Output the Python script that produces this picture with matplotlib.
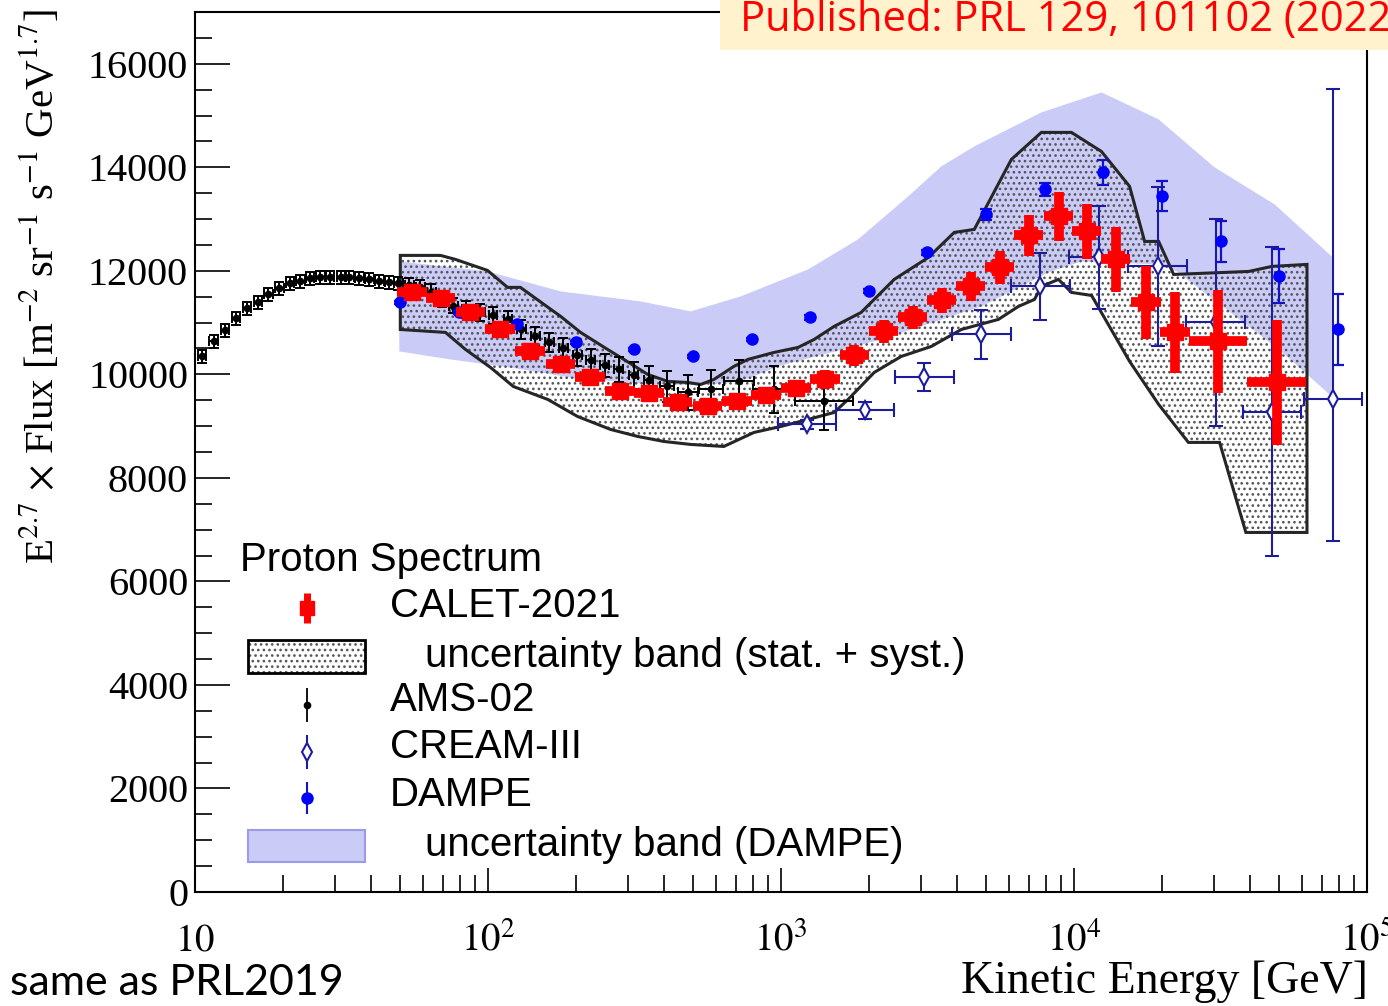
import numpy as np
import matplotlib.pyplot as plt
from matplotlib.patches import Rectangle
from matplotlib.ticker import FixedLocator, MultipleLocator, LogLocator, NullFormatter

plt.rcParams['mathtext.fontset'] = 'stix'
plt.rcParams['hatch.linewidth'] = 1.1

SERIF = ['Liberation Serif', 'DejaVu Serif']
SANS = ['Liberation Sans', 'DejaVu Sans']
NOTE = ['Lato', 'DejaVu Sans']
NOTE2 = ['Open Sans', 'DejaVu Sans']

# ---- CALET-2021 (E^2.7 x flux) ----
calet_e = [55, 69, 87, 110, 139, 177, 223, 282, 354, 444, 562, 708, 889, 1124,
           1413, 1781, 2242, 2818, 3535, 4441, 5578, 7000, 8870, 11040, 13890,
           17620, 22100, 31000, 49200]
calet_f = [11582, 11466, 11196, 10867, 10442, 10191, 9940, 9670, 9631, 9457,
           9380, 9477, 9592, 9728, 9901, 10365, 10829, 11100, 11428, 11698,
           12065, 12683, 13050, 12760, 12220, 11389, 10810, 10636, 9844]
calet_ferr = [150, 150, 150, 150, 150, 150, 150, 150, 150, 150, 150, 150, 160,
              170, 175, 195, 215, 220, 240, 280, 320, 390, 480, 540, 620, 700,
              780, 1000, 1200]
calet_dlog = [0.05] * 27 + [0.1, 0.1]

# CALET uncertainty band (stat. + syst.)
cband_up_e = [50.2, 68.8, 77.4, 99.6, 116.6, 129, 164, 177, 207, 256, 291, 351,
              411, 481, 532, 590, 690, 771, 946, 1143, 1297, 1518, 1877, 2434,
              3184, 3902, 4567, 6113, 7738, 9800, 12400, 15480, 17420, 19450,
              21890, 39500, 47300, 62400]
cband_up_f = [12298, 12298, 12221, 12008, 11680, 11680, 11254, 11120, 10810,
              10481, 10288, 9998, 9863, 9843, 9805, 9901, 10153, 10288, 10423,
              10520, 10674, 10926, 11196, 11834, 12259, 12742, 12800, 14152,
              14674, 14674, 14307, 13631, 12568, 12568, 11930, 11988, 12085,
              12124]
cband_lo_e = [50.2, 71.6, 83.8, 102, 122, 160, 202, 262, 324, 398, 492, 638,
              809, 1000, 1237, 1518, 1694, 2080, 2572, 3258, 4125, 5520, 6460,
              7330, 7740, 8850, 9800, 11480, 15480, 19450, 24570, 31400, 38600,
              62400]
cband_lo_f = [10867, 10810, 10481, 10133, 9766, 9515, 9187, 8936, 8801, 8704,
              8646, 8607, 8878, 8994, 9129, 9264, 9515, 10037, 10346, 10539,
              10867, 11061, 11312, 11447, 11698, 11834, 11583, 11524, 10250,
              9419, 8685, 8685, 6946, 6946]

# ---- AMS-02 ----
ams_e = [10.57, 11.6, 12.66, 13.8, 15.06, 16.4, 17.8, 19.4, 21.1, 22.9, 24.7,
         26.8, 28.9, 31.6, 33.6, 36.4, 39.4, 42.6, 46.0, 49.4, 53.9, 58.8, 64.1,
         69.9, 76.2, 84.4, 94.2, 104, 117, 130, 145, 162, 181, 202, 224, 250,
         279, 314, 354, 408, 481, 576, 719, 946, 1403]
ams_f = [10346, 10636, 10848, 11080, 11273, 11389, 11544, 11660, 11757, 11795,
         11853, 11873, 11873, 11873, 11873, 11853, 11834, 11795, 11776, 11757,
         11718, 11679, 11600, 11460, 11330, 11254, 11196, 11138, 11061, 10867,
         10732, 10616, 10500, 10365, 10269, 10172, 10095, 9979, 9882, 9766,
         9650, 9709, 9863, 9709, 9477]
ams_ferr = [130] * 20 + [140, 140, 150, 150, 150, 160, 160, 170, 170, 180, 180,
                         190, 200, 210, 220, 230, 240, 260, 280, 300, 330, 380,
                         420, 460, 560]
ams_dlog = [0.015] * 39 + [0.025, 0.034, 0.04, 0.05, 0.07, 0.1]

# ---- CREAM-III ----
cream_e = [1227, 1936, 3083, 4830, 7670, 12130, 19280, 30470, 47330, 76600]
cream_f = [9032, 9303, 9940, 10771, 11698, 12259, 12085, 11003, 9264, 9515]
cream_err_lo = [80, 170, 270, 480, 650, 990, 1540, 2000, 2780, 2740]
cream_err_hi = [80, 170, 270, 480, 650, 990, 1540, 2000, 3190, 5990]
cream_dlog = [0.1] * 10

# ---- DAMPE ----
dampe_e = [50.1, 79.4, 125.9, 199.5, 316.2, 501.2, 794.3, 1259, 1995, 3162,
           5012, 7943, 12589, 19953, 31623, 50119, 79433]
dampe_f = [11389, 11196, 10964, 10616, 10481, 10346, 10674, 11099, 11602,
           12356, 13090, 13573, 13902, 13438, 12569, 11892, 10867]
dampe_ferr = [30, 30, 30, 30, 30, 30, 30, 40, 40, 50, 100, 130, 240, 290, 400,
              520, 680]

# DAMPE uncertainty band
dband_up_e = [49.8, 99.6, 177, 332, 492, 729, 1237, 1832, 2716, 3525, 4567,
              7740, 12420, 19450, 30200, 48400, 75800]
dband_up_f = [12182, 11989, 11602, 11409, 11216, 11506, 12027, 12607, 13437,
              14017, 14403, 15060, 15446, 14925, 13998, 13283, 12278]
dband_lo_e = [49.8, 74.5, 119, 191, 332, 532, 729, 1000, 2198, 4831, 8180,
              10610, 19450, 22400, 50000, 61400, 75800]
dband_lo_f = [10443, 10288, 10133, 9940, 9824, 9786, 9863, 10172, 10674, 11312,
              11969, 12182, 12124, 11989, 10481, 10037, 9573]

xtick_vals = [10, 100, 1000, 10000, 100000]
xtick_labels = ['$10$', '$10^{2}$', '$10^{3}$', '$10^{4}$', '$10^{5}$']

RED = '#ff0000'
NAVY = '#1c1c9c'
BLUE = '#0000ff'
LAV = '#cbcbf7'


def log_xerr(e, dlog):
    e = np.asarray(e, float)
    d = np.asarray(dlog, float)
    return np.vstack([e - e / 10 ** d, e * 10 ** d - e])


W, H = 1388, 1006
L, R, T, B = 195, 1367, 12, 892
fig = plt.figure(figsize=(W / 100, H / 100), dpi=100)
ax = fig.add_axes([L / W, 1 - B / H, (R - L) / W, (B - T) / H])
ax.set_xscale('log')
ax.set_xlim(10, 1e5)
ax.set_ylim(0, 17000)

# bands
ax.fill(np.r_[dband_up_e, dband_lo_e[::-1]], np.r_[dband_up_f, dband_lo_f[::-1]],
        color=LAV, lw=0, zorder=1)
bx = np.r_[cband_up_e, cband_lo_e[::-1]]
by = np.r_[cband_up_f, cband_lo_f[::-1]]
ax.fill(bx, by, facecolor='none', edgecolor='#555555', hatch='...', lw=0, zorder=2)
ax.fill(bx, by, facecolor='none', edgecolor='#262626', lw=2.2, zorder=2.1)

# data points
ax.errorbar(ams_e, ams_f, xerr=log_xerr(ams_e, ams_dlog), yerr=ams_ferr,
            fmt='o', ms=4.5, color='black', elinewidth=1.4, capsize=3.5,
            capthick=1.4, zorder=4)
ax.errorbar(cream_e, cream_f, xerr=log_xerr(cream_e, cream_dlog),
            yerr=[cream_err_lo, cream_err_hi], fmt='d', ms=9, mfc='white',
            mec=NAVY, mew=1.5, color=NAVY, elinewidth=1.5, capsize=5,
            capthick=1.5, zorder=4)
ax.errorbar(dampe_e, dampe_f, yerr=dampe_ferr, fmt='o', ms=8, color=BLUE,
            ecolor='#1212c8', elinewidth=1.6, capsize=4, capthick=1.6, zorder=5)
ax.errorbar(calet_e, calet_f, xerr=log_xerr(calet_e, calet_dlog), yerr=calet_ferr,
            fmt='s', ms=11, color=RED, elinewidth=7, capsize=0, zorder=6)

# axes styling
for s in ax.spines.values():
    s.set_linewidth(1.5)
ax.yaxis.set_major_locator(MultipleLocator(2000))
ax.yaxis.set_minor_locator(MultipleLocator(500))
ax.xaxis.set_major_locator(FixedLocator(xtick_vals))
ax.xaxis.set_minor_locator(LogLocator(base=10, subs=np.arange(2, 10), numticks=20))
ax.xaxis.set_minor_formatter(NullFormatter())
ax.set_xticks(xtick_vals, labels=xtick_labels, va='baseline')
ax.tick_params(which='both', direction='in', top=False, right=False, width=1.2)
ax.tick_params(axis='y', which='major', length=25, pad=5, labelsize=29,
               labelfontfamily=SERIF)
ax.tick_params(axis='y', which='minor', length=12)
ax.tick_params(axis='x', which='major', length=17, pad=42, labelsize=28)
ax.tick_params(axis='x', which='minor', length=12)

ax.set_ylabel(r'E$^{2.7}$ $\times$ Flux [m$^{-2}$ sr$^{-1}$ s$^{-1}$ GeV$^{1.7}$]',
              fontsize=29.5, family=SERIF)
ax.yaxis.set_label_coords((62 - L) / (R - L), (B - 287) / (B - T))
ax.set_xlabel('Kinetic Energy [GeV]', fontsize=33, family=SERIF, loc='right',
              va='center')
ax.xaxis.set_label_coords((1368 - L) / (R - L), (B - 982) / (B - T))


def axc(px, py):
    return (px - L) / (R - L), (B - py) / (B - T)


# legend drawn ROOT-style
tx = dict(transform=ax.transAxes, fontsize=29, family=SANS, va='center', ha='left')
ax.text(*axc(240, 560), 'Proton Spectrum', **tx)
mx = axc(307, 0)[0]


def leg_marker(py, half, lw, lcolor, **mk):
    y0 = axc(0, py - half)[1]
    y1 = axc(0, py + half)[1]
    ym = axc(0, py)[1]
    ax.plot([mx, mx], [y0, y1], color=lcolor, lw=lw, transform=ax.transAxes,
            clip_on=False, zorder=7, solid_capstyle='butt')
    ax.plot([mx], [ym], transform=ax.transAxes, clip_on=False, zorder=8,
            ls='none', **mk)


leg_marker(608, 15, 5, RED, marker='s', ms=10, color=RED)
ax.text(*axc(390, 606), 'CALET-2021', **tx)
bw = (365 - 248) / (R - L)
bh = (673 - 640) / (B - T)
ax.add_patch(Rectangle(axc(248, 673), bw, bh, transform=ax.transAxes,
                       facecolor='white', edgecolor='#555555', hatch='...',
                       lw=0, zorder=7, clip_on=False))
ax.add_patch(Rectangle(axc(248, 673), bw, bh, transform=ax.transAxes,
                       facecolor='none', edgecolor='black', lw=2, zorder=7.1,
                       clip_on=False))
ax.text(*axc(425, 656), 'uncertainty band (stat. + syst.)', **tx)
leg_marker(705, 17, 1.3, 'black', marker='o', ms=4.5, color='black')
ax.text(*axc(390, 700), 'AMS-02', **tx)
leg_marker(752, 17, 1.5, NAVY, marker='d', ms=9, mfc='white', mec=NAVY, mew=1.5)
ax.text(*axc(390, 747), 'CREAM-III', **tx)
leg_marker(798, 16, 1.5, '#1212c8', marker='o', ms=8, color=BLUE)
ax.text(*axc(390, 795), 'DAMPE', **tx)
ax.add_patch(Rectangle(axc(248, 862), bw, (862 - 830) / (B - T),
                       transform=ax.transAxes, facecolor=LAV, edgecolor='#9a9ae8',
                       lw=1.5, zorder=7, clip_on=False))
ax.text(*axc(425, 845), 'uncertainty band (DAMPE)', **tx)

# annotations outside the plot
fig.add_artist(Rectangle((720 / W, 1 - 50 / H), (W - 720) / W, 50 / H,
                         transform=fig.transFigure, facecolor='#fff2cc',
                         edgecolor='none', zorder=10))
fig.text(740 / W, 1 - 31 / H, 'Published: PRL 129, 101102 (2022)', color=RED,
         fontsize=30, family=NOTE2, va='baseline', ha='left', zorder=11)
fig.text(10 / W, 1 - 995 / H, 'same as PRL2019', color='black', fontsize=31,
         family=NOTE, va='baseline', ha='left')

fig.savefig('out.png', dpi=100)
